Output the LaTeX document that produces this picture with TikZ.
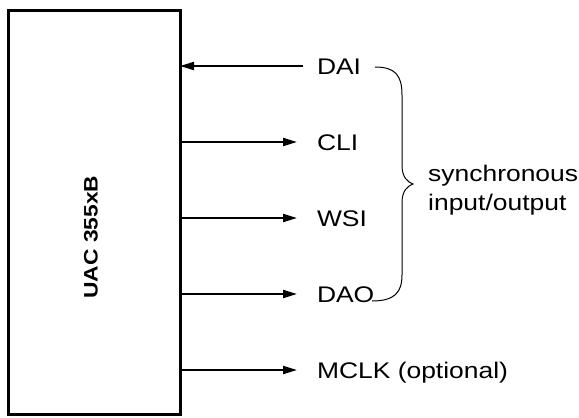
\documentclass[tikz,border=0pt]{standalone}
\usepackage{fontspec}
\setmainfont{Liberation Sans}[FakeStretch=1.17]
\usetikzlibrary{arrows.meta}
\tikzset{
	sig/.style = {line width = 2pt, -{Triangle[length = 14pt, width = 8pt]}},
	pin/.style = {anchor = west, inner sep = 0pt, outer xsep = 20pt, outer ysep = 0pt, text height = 16pt, text depth = 0pt, font = \fontsize{22.6}{27}\selectfont}
}
\begin{document}
\begin{tikzpicture}[x = 1pt, y = -1pt]
	\useasboundingbox (0, 0) rectangle (579, 418);
	\node[draw, line width = 3pt, minimum width = 172pt, minimum height = 404pt, inner sep = 0pt, outer sep = 0pt] (uac) at (94, 212) {};
	\node[rotate = 90, font = \fontsize{19.5}{22}\selectfont\bfseries] (uacname) at (91, 237) {UAC 355xB};
	\node[pin] (dai) at (297, 66) {DAI};
	\node[pin] (cli) at (297, 142) {CLI};
	\node[pin] (wsi) at (297, 218) {WSI};
	\node[pin] (dao) at (297, 294) {DAO};
	\node[pin] (mclk) at (297, 370) {MCLK (optional)};
	\draw[sig] ([xshift = 6pt]dai.west) -- (uac.east |- dai.west);
	\draw[sig] (uac.east |- cli.west) -- (cli.west);
	\draw[sig] (uac.east |- wsi.west) -- (wsi.west);
	\draw[sig] (uac.east |- dao.west) -- (dao.west);
	\draw[sig] (uac.east |- mclk.west) -- (mclk.west);
	\draw[line width = 1pt] (375, 67) .. controls (395, 67) and (402, 75) .. (402, 95) -- (402, 165) .. controls (402, 178) and (408, 182) .. (413, 184) .. controls (408, 186) and (402, 190) .. (402, 203) -- (402, 275) .. controls (402, 292) and (395, 301) .. (372, 301);
	\node[anchor = west, align = left, inner sep = 0pt, font = \fontsize{22.6}{29}\selectfont] (sync) at (428, 190) {synchronous\\input/output};
\end{tikzpicture}
\end{document}
